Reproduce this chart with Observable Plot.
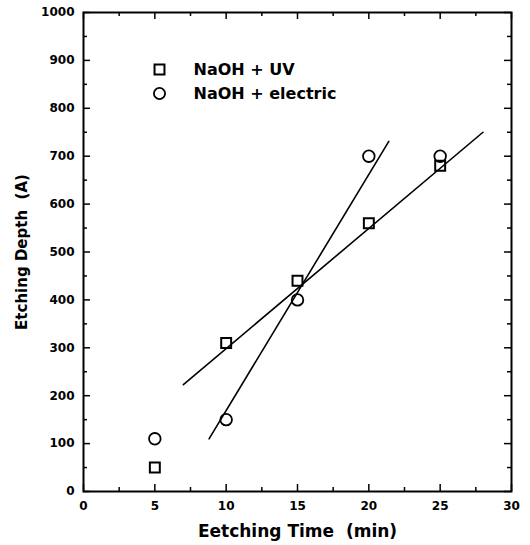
<!DOCTYPE html>
<html>
<head>
<meta charset="utf-8">
<script src="https://cdn.jsdelivr.net/npm/d3@7"></script>
<script src="https://cdn.jsdelivr.net/npm/@observablehq/plot@0.6"></script>
<style>
  html, body { margin: 0; padding: 0; background: #fff; }
</style>
</head>
<body>
<div id="chart"></div>
<script>
// Data
const times = [5, 10, 15, 20, 25];
const uvDepth = [50, 310, 440, 560, 680];
const electricDepth = [110, 150, 400, 700, 700];

// Fitted lines (endpoints as drawn in the reference)
const uvFitX = [7.0, 28.0];
const uvFitY = [223, 750];
const elFitX = [8.8, 21.4];
const elFitY = [110, 731];

// Axis ticks
const xMajor = [0, 5, 10, 15, 20, 25, 30];
const xMinor = [2.5, 7.5, 12.5, 17.5, 22.5, 27.5];
const yMajor = [0, 100, 200, 300, 400, 500, 600, 700, 800, 900, 1000];
const yMinor = [50, 150, 250, 350, 450, 550, 650, 750, 850, 950];

const seriesNames = ["NaOH + UV", "NaOH + electric"];
const seriesSymbols = ["square", "circle"];

const W = 530, H = 545;
const mL = 83, mR = 19, mT = 12, mB = 54;
const xDom = [0, 30], yDom = [0, 1000];
const pxX = (W - mL - mR) / (xDom[1] - xDom[0]);
const pxY = (H - mT - mB) / (yDom[1] - yDom[0]);
const majLen = 7, minLen = 4;

const uvPts = times.map((t, i) => ({t, v: uvDepth[i]}));
const elPts = times.map((t, i) => ({t, v: electricDepth[i]}));
const uvFit = uvFitX.map((x, i) => ({x, y: uvFitY[i]}));
const elFit = elFitX.map((x, i) => ({x, y: elFitY[i]}));

const tickStyle = {stroke: "black", strokeWidth: 1.5};

const legendMarks = seriesNames.flatMap((name, i) => [
  Plot.dot([name], {frameAnchor: "top-left", dx: 76, dy: 57 + i * 24, symbol: seriesSymbols[i], r: 5.6,
    stroke: "black", strokeWidth: seriesSymbols[i] === "square" ? 2 : 1.8, fill: "none"}),
  Plot.text([name], {frameAnchor: "top-left", dx: 110, dy: 57 + i * 24, text: d => d, textAnchor: "start",
    lineAnchor: "middle", fontSize: 16, fill: "black"})
]);

const chart = Plot.plot({
  width: W, height: H,
  marginLeft: mL, marginRight: mR, marginTop: mT, marginBottom: mB,
  style: {fontFamily: "DejaVu Sans", fontWeight: "bold", fontSize: "12px", color: "black", background: "white"},
  x: {domain: xDom},
  y: {domain: yDom},
  marks: [
    Plot.axisX({ticks: xMajor, tickSize: 0, tickPadding: 10, tickFormat: d => String(d), label: null, fontSize: 12, fill: "black"}),
    Plot.axisY({ticks: yMajor, tickSize: 0, tickPadding: 9, tickFormat: d => String(d), label: null, fontSize: 12, fill: "black"}),
    // inward ticks: bottom & top
    Plot.ruleX(xMajor, {x: d => d, y1: yDom[0], y2: yDom[0] + majLen / pxY, ...tickStyle}),
    Plot.ruleX(xMinor, {x: d => d, y1: yDom[0], y2: yDom[0] + minLen / pxY, ...tickStyle}),
    Plot.ruleX(xMajor, {x: d => d, y1: yDom[1], y2: yDom[1] - majLen / pxY, ...tickStyle}),
    Plot.ruleX(xMinor, {x: d => d, y1: yDom[1], y2: yDom[1] - minLen / pxY, ...tickStyle}),
    // inward ticks: left & right
    Plot.ruleY(yMajor, {y: d => d, x1: xDom[0], x2: xDom[0] + majLen / pxX, ...tickStyle}),
    Plot.ruleY(yMinor, {y: d => d, x1: xDom[0], x2: xDom[0] + minLen / pxX, ...tickStyle}),
    Plot.ruleY(yMajor, {y: d => d, x1: xDom[1], x2: xDom[1] - majLen / pxX, ...tickStyle}),
    Plot.ruleY(yMinor, {y: d => d, x1: xDom[1], x2: xDom[1] - minLen / pxX, ...tickStyle}),
    Plot.frame({stroke: "black", strokeWidth: 2}),
    // fit lines
    Plot.line(uvFit, {x: "x", y: "y", stroke: "black", strokeWidth: 1.6}),
    Plot.line(elFit, {x: "x", y: "y", stroke: "black", strokeWidth: 1.6}),
    // data points
    Plot.dot(uvPts, {x: "t", y: "v", symbol: "square", r: 5.6, stroke: "black", strokeWidth: 2, fill: "none"}),
    Plot.dot(elPts, {x: "t", y: "v", symbol: "circle", r: 5.8, stroke: "black", strokeWidth: 1.8, fill: "none"}),
    // legend
    ...legendMarks,
    // axis titles
    Plot.text(["Eetching Time  (min)"], {frameAnchor: "bottom", dy: 40, lineAnchor: "middle", text: d => d, fontSize: 17, fill: "black"}),
    Plot.text(["Etching Depth  (A)"], {frameAnchor: "left", dx: -61, rotate: -90, textAnchor: "middle", lineAnchor: "middle", text: d => d, fontSize: 15, fill: "black"})
  ]
});
document.getElementById("chart").appendChild(chart);
</script>
</body>
</html>
